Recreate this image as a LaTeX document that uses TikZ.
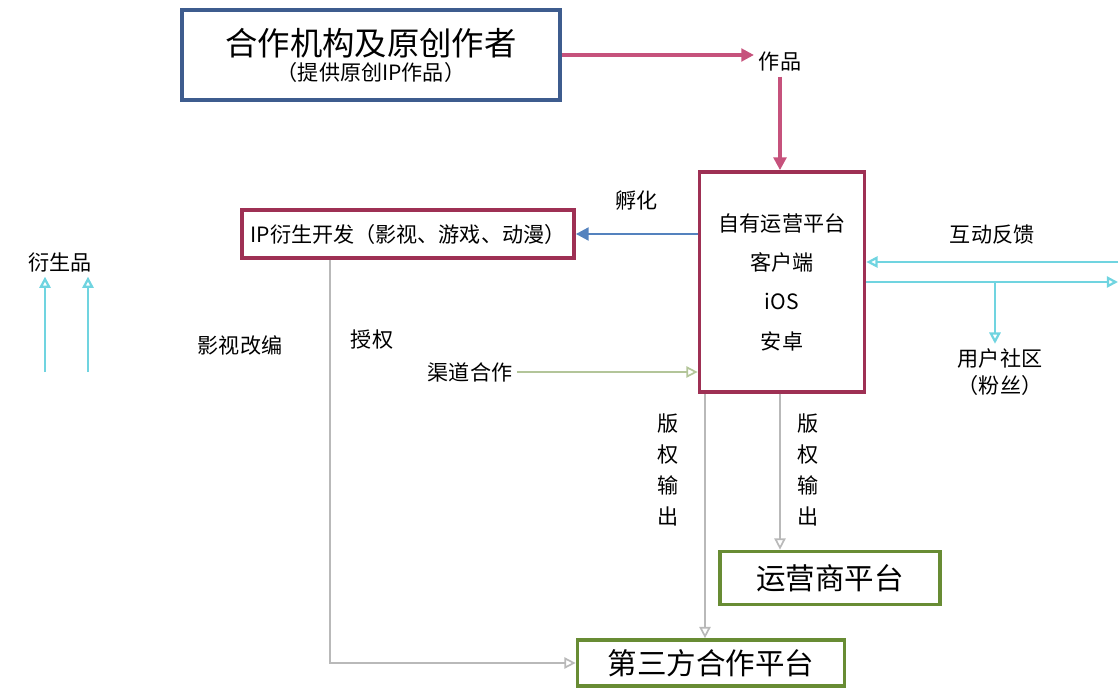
\documentclass[tikz,border=0pt]{standalone}
\usepackage{fontspec}
\setmainfont{Noto Sans CJK SC}
\usetikzlibrary{arrows.meta, positioning}
\definecolor{ipblue}{RGB}{62, 92, 142}
\definecolor{ipred}{RGB}{158, 48, 84}
\definecolor{ippink}{RGB}{198, 82, 124}
\definecolor{ipsky}{RGB}{84, 130, 190}
\definecolor{ipcyan}{RGB}{112, 212, 224}
\definecolor{ipgreen}{RGB}{104, 140, 52}

\begin{document}
\begin{tikzpicture}[x=0.025cm, y=-0.025cm,
    big/.style={font=\fontsize{21}{26}\selectfont},
    small/.style={font=\fontsize{15}{19}\selectfont},
    bluebox/.style={draw=ipblue, line width=2.6pt, align=center},
    redbox/.style={draw=ipred, line width=2.6pt, align=center},
    greenbox/.style={draw=ipgreen, line width=2.6pt, align=center, big},
    pinkarrow/.style={draw=ippink, line width=2.2pt, -{Triangle[length=9pt, width=9pt]}},
    skyarrow/.style={draw=ipsky, line width=2pt, -{Triangle[length=9pt, width=9pt]}},
    cyanarrow/.style={draw=ipcyan, line width=1.6pt, -{Triangle[open, length=8pt, width=8pt]}},
    outarrow/.style={draw=gray!55, line width=1.2pt, -{Triangle[open, length=8pt, width=8pt]}}]
    \useasboundingbox (0,0) rectangle (1120,689);

    % source
    \node[bluebox, minimum width=9.45cm, minimum height=2.25cm] (src) at (371,55)
        {\fontsize{23}{28}\selectfont 合作机构及原创作者\\[2pt] \fontsize{15}{19}\selectfont （提供原创IP作品）};
    \node[small] (works) at (780,62) {作品};
    \draw[pinkarrow] (src.east) -- (src.east -| works.west);

    % own platform
    \node[redbox, small, minimum width=4.125cm, minimum height=5.5cm,
        font=\fontsize{15}{28}\selectfont] (hub) at (782,282) {自有运营平台\\客户端\\iOS\\安卓};
    \draw[pinkarrow] (works.south) -- (works.south |- hub.north);

    % incubation
    \node[redbox, small, minimum width=8.3cm, minimum height=1.2cm] (derive) at (408,234)
        {IP衍生开发（影视、游戏、动漫）};
    \draw[skyarrow] (hub.west |- derive.east) -- node[above=0.45cm, small] (hatch) {孵化} (derive.east);
    \node[small] (goods) at (60,262) {衍生品};
    \coordinate (up1) at (45,372);
    \coordinate (up2) at (88,372);
    \draw[cyanarrow] (up1) -- (up1 |- goods.south);
    \draw[cyanarrow] (up2) -- (up2 |- goods.south);
    \node[small] (film) at (240,345) {影视改编};
    \node[small] (grant) at (372,340) {授权};
    \node[small] (partner) at (470,372) {渠道合作};
    \draw[draw=ipgreen!50, line width=1.2pt, -{Triangle[open, length=8pt, width=8pt]}]
        (partner.east) -- (partner.east -| hub.west);

    % feedback
    \coordinate (fbin) at (1118,262);
    \coordinate (fbout) at (1118,282);
    \draw[cyanarrow] (fbin) -- node[above=0.3cm, small] (talk) {互动反馈} (fbin -| hub.east);
    \draw[cyanarrow] (fbout -| hub.east) -- (fbout);
    \node[small, align=center] (user) at (1000,372) {用户社区\\（粉丝）};
    \coordinate (fbdown) at (995,282);
    \draw[cyanarrow] (fbdown) -- (fbdown |- user.north);

    % output
    \node[greenbox, minimum width=5.5cm, minimum height=1.325cm] (op) at (830,578) {运营商平台};
    \node[greenbox, minimum width=6.675cm, minimum height=1.15cm] (third) at (711,663) {第三方合作平台};
    \coordinate (o1) at (705,0);
    \coordinate (o2) at (780,0);
    \draw[outarrow] (hub.south -| o1) -- (o1 |- third.north);
    \draw[outarrow] (hub.south -| o2) -- (o2 |- op.north);
    \node[small, align=center, font=\fontsize{15}{22}\selectfont] (out1) at (668,470) {版\\权\\输\\出};
    \node[small, align=center, font=\fontsize{15}{22}\selectfont] (out2) at (808,470) {版\\权\\输\\出};
    \coordinate (dl) at (330,0);
    \draw[outarrow] (derive.south -| dl) |- (third.west);
\end{tikzpicture}
\end{document}
